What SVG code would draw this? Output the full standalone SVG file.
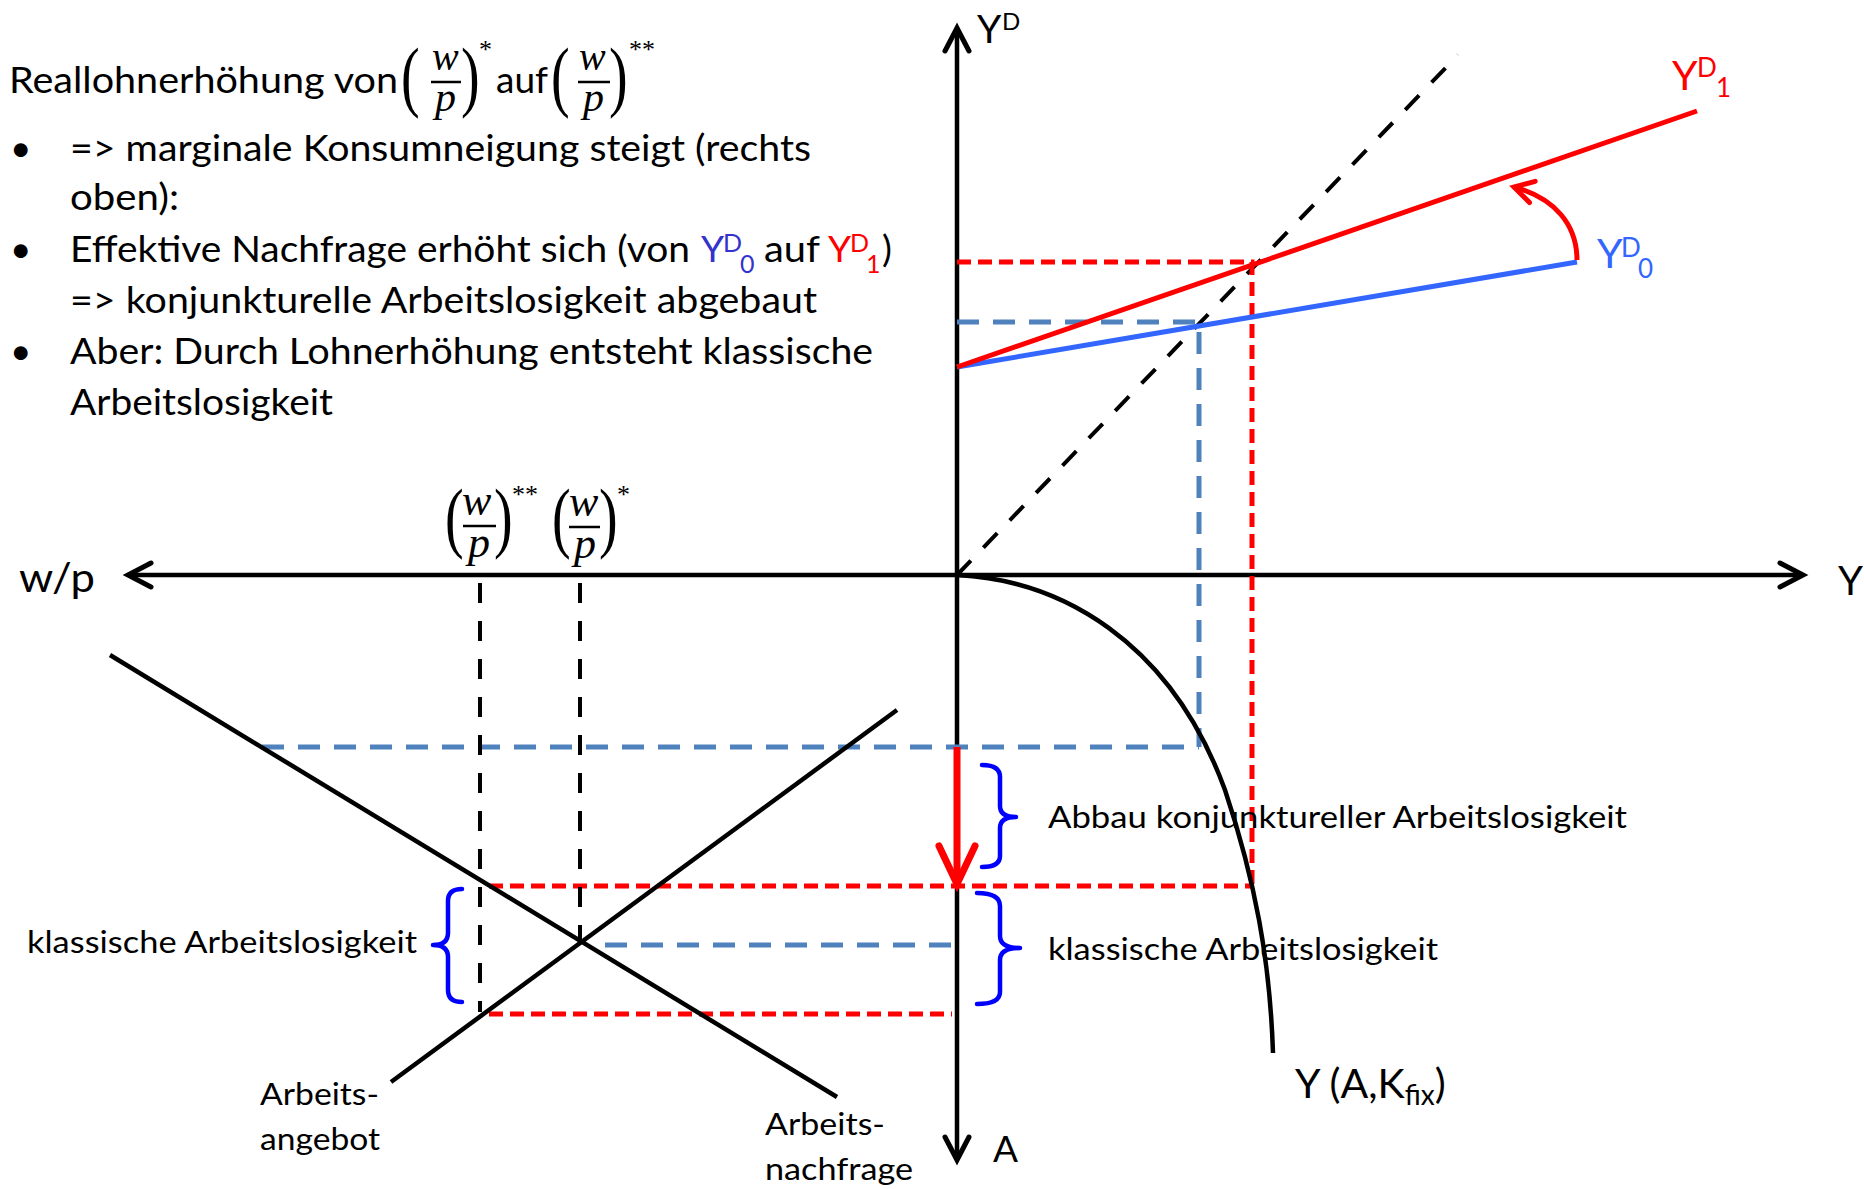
<svg xmlns="http://www.w3.org/2000/svg" width="1864" height="1189" viewBox="0 0 1864 1189">
<defs>
<style>
text { font-family: Lato, "Liberation Sans", sans-serif; fill: #000; }
.body { font-size: 37px; }
.lbl { font-size: 31px; }
.sup { font-size: 25px; }
.mi { font-family: "Liberation Serif", serif; font-style: italic; }
.paren { font-family: "Liberation Serif", serif; font-size: 56px; }
.star { font-family: "Liberation Serif", serif; font-size: 26px; }
.bar { stroke: #000; stroke-width: 2.5; }
.axis { stroke: #000; stroke-width: 4.5; fill: none; }
.dk { stroke: #000; stroke-width: 4; stroke-dasharray: 20 18; fill: none; }
.dred { stroke: #FF0000; stroke-width: 5; stroke-dasharray: 14 7; fill: none; }
.dblue { stroke: #4F81BD; stroke-width: 5; stroke-dasharray: 22 14; fill: none; }
.brace { stroke: #0000FF; stroke-width: 4.5; fill: none; stroke-linecap: round; stroke-linejoin: round; }
.solid { stroke: #000; stroke-width: 4.5; fill: none; }
.red { fill: #FF0000; }
.blue { fill: #3366FF; }
.bblue { fill: #3333CC; }
</style>
<marker id="ah" markerUnits="userSpaceOnUse" markerWidth="30" markerHeight="30" viewBox="0 0 30 30" refX="26" refY="15" orient="auto-start-reverse" overflow="visible">
<path d="M3,3 L26,15 L3,27" fill="none" stroke="#000" stroke-width="5" stroke-linecap="round"/>
</marker>
<marker id="ahRedBig" markerUnits="userSpaceOnUse" markerWidth="50" markerHeight="44" viewBox="0 0 50 44" refX="44" refY="22" orient="auto" overflow="visible">
<path d="M6,4 L44,22 L6,40" fill="none" stroke="#FF0000" stroke-width="7" stroke-linecap="round"/>
</marker>
<marker id="ahRed" markerUnits="userSpaceOnUse" markerWidth="30" markerHeight="30" viewBox="0 0 30 30" refX="24" refY="15" orient="auto" overflow="visible">
<path d="M5,4 L24,15 L5,26" fill="none" stroke="#FF0000" stroke-width="5" stroke-linecap="round"/>
</marker>
</defs>
<rect width="1864" height="1189" fill="#fff"/>

<g id="text-block">
<text class="body" x="9" y="93" textLength="389" lengthAdjust="spacingAndGlyphs">Reallohnerhöhung von</text>
<g id="frac-top-1">
<text class="paren" transform="translate(401,102) scale(1,1.4)">(</text>
<text class="mi" x="432" y="70" font-size="40">w</text>
<line class="bar" x1="431" y1="82" x2="461" y2="82"/>
<text class="mi" x="435" y="111" font-size="42">p</text>
<text class="paren" transform="translate(461,102) scale(1,1.4)">)</text>
<text class="star" x="479" y="58">*</text>
</g>
<text class="body" x="496" y="93" textLength="52" lengthAdjust="spacingAndGlyphs">auf</text>
<g id="frac-top-2">
<text class="paren" transform="translate(551,102) scale(1,1.4)">(</text>
<text class="mi" x="579" y="70" font-size="40">w</text>
<line class="bar" x1="578" y1="82" x2="610" y2="82"/>
<text class="mi" x="583" y="111" font-size="42">p</text>
<text class="paren" transform="translate(609,102) scale(1,1.4)">)</text>
<text class="star" x="629" y="58">**</text>
</g>
<text class="body" x="10" y="161" font-size="32">•</text>
<text class="body" x="70" y="161" textLength="741" lengthAdjust="spacingAndGlyphs">=&gt; marginale Konsumneigung steigt (rechts</text>
<text class="body" x="70" y="210" textLength="109" lengthAdjust="spacingAndGlyphs">oben):</text>
<text class="body" x="10" y="262" font-size="32">•</text>
<text class="body" x="70" y="262" textLength="620" lengthAdjust="spacingAndGlyphs">Effektive Nachfrage erhöht sich (von</text>
<text class="body bblue" x="701" y="262">Y</text>
<text class="sup bblue" x="723" y="252">D</text>
<text class="sup bblue" x="740" y="273">0</text>
<text class="body" x="764" y="262" textLength="56" lengthAdjust="spacingAndGlyphs">auf</text>
<text class="body red" x="828" y="262">Y</text>
<text class="sup red" x="850" y="252">D</text>
<text class="sup red" x="866" y="273">1</text>
<text class="body" x="882" y="262">)</text>
<text class="body" x="70" y="313" textLength="747" lengthAdjust="spacingAndGlyphs">=&gt; konjunkturelle Arbeitslosigkeit abgebaut</text>
<text class="body" x="10" y="364" font-size="32">•</text>
<text class="body" x="70" y="364" textLength="803" lengthAdjust="spacingAndGlyphs">Aber: Durch Lohnerhöhung entsteht klassische</text>
<text class="body" x="70" y="415" textLength="263" lengthAdjust="spacingAndGlyphs">Arbeitslosigkeit</text>
</g>

<g id="connectors">
<line class="axis" x1="128" y1="575" x2="1803" y2="575" marker-start="url(#ah)" marker-end="url(#ah)"/>
<line class="axis" x1="957" y1="28" x2="957" y2="1160" marker-start="url(#ah)" marker-end="url(#ah)"/>
<line class="dk" x1="957" y1="575" x2="1458" y2="55" stroke-width="4.5" stroke-dasharray="22 14"/>
<path class="dred" d="M957,262 H1252 V886"/>
<path class="dblue" d="M957,322 H1199 V747"/>
<line class="dblue" x1="262" y1="747" x2="1199" y2="747"/>
<line class="dred" x1="489" y1="886" x2="1252" y2="886"/>
<line class="dred" x1="489" y1="1014" x2="952" y2="1014"/>
<line class="dblue" x1="605" y1="945" x2="952" y2="945"/>
<line class="dk" x1="480" y1="583" x2="480" y2="1012"/>
<line class="dk" x1="580" y1="583" x2="580" y2="940"/>
<line x1="957" y1="367" x2="1577" y2="262" stroke="#3366FF" stroke-width="5"/>
<line x1="957" y1="367" x2="1697" y2="111" stroke="#FF0000" stroke-width="5"/>
<path d="M1577,260 C1577,225 1555,198 1514,187" fill="none" stroke="#FF0000" stroke-width="5" marker-end="url(#ahRed)"/>
<line x1="957" y1="747" x2="957" y2="884" stroke="#FF0000" stroke-width="7" marker-end="url(#ahRedBig)"/>
<path class="solid" d="M957,575 C1060,580 1170,640 1225,790 C1255,880 1270,960 1273,1053"/>
<line class="solid" x1="110" y1="655" x2="837" y2="1097"/>
<line class="solid" x1="391" y1="1082" x2="897" y2="710"/>
<path class="brace" d="M982,765 Q1000,765 1000,777 V806 Q1000,817 1016,817 Q1000,817 1000,828 V856 Q1000,867 982,867"/>
<path class="brace" d="M977,893 Q1000,893 1000,906 V936 Q1000,948 1020,948 Q1000,948 1000,960 V992 Q1000,1004 977,1004"/>
<path class="brace" d="M462,889 Q448,889 448,901 V933 Q448,945 433,945 Q448,945 448,957 V990 Q448,1002 462,1002"/>
</g>

<g id="axis-labels">
<text x="977" y="43" font-size="39">Y</text>
<text x="1002" y="30" font-size="24">D</text>
<text x="19" y="592" font-size="40" textLength="76" lengthAdjust="spacingAndGlyphs">w/p</text>
<text x="1838" y="595" font-size="40">Y</text>
<text x="993" y="1162" font-size="37">A</text>
</g>

<g id="frac-bottom-1">
<text class="paren" transform="translate(445,543) scale(1,1.4)">(</text>
<text class="mi" x="462" y="515" font-size="44">w</text>
<line class="bar" x1="463" y1="526" x2="496" y2="526"/>
<text class="mi" x="468" y="557" font-size="44">p</text>
<text class="paren" transform="translate(494,543) scale(1,1.4)">)</text>
<text class="star" x="512" y="503">**</text>
</g>
<g id="frac-bottom-2">
<text class="paren" transform="translate(552,543) scale(1,1.4)">(</text>
<text class="mi" x="569" y="516" font-size="44">w</text>
<line class="bar" x1="569" y1="527" x2="600" y2="527"/>
<text class="mi" x="574" y="558" font-size="44">p</text>
<text class="paren" transform="translate(599,543) scale(1,1.4)">)</text>
<text class="star" x="617" y="503">*</text>
</g>

<g id="label-yd1">
<text class="red" x="1672" y="90" font-size="41">Y</text>
<text class="red" x="1697" y="77" font-size="26">D</text>
<text class="red" x="1716" y="97" font-size="26">1</text>
</g>
<g id="label-yd0">
<text class="blue" x="1597" y="268" font-size="41">Y</text>
<text class="blue" x="1621" y="257" font-size="26">D</text>
<text class="blue" x="1638" y="278" font-size="26">0</text>
</g>
<g id="label-abbau"><text class="lbl" x="1048" y="828" textLength="579" lengthAdjust="spacingAndGlyphs">Abbau konjunktureller Arbeitslosigkeit</text></g>
<g id="label-klass-right"><text class="lbl" x="1048" y="960" textLength="390" lengthAdjust="spacingAndGlyphs">klassische Arbeitslosigkeit</text></g>
<g id="label-klass-left"><text class="lbl" x="27" y="953" textLength="390" lengthAdjust="spacingAndGlyphs">klassische Arbeitslosigkeit</text></g>
<g id="label-angebot">
<text class="lbl" x="260" y="1105" textLength="119" lengthAdjust="spacingAndGlyphs">Arbeits-</text>
<text class="lbl" x="260" y="1150" textLength="120" lengthAdjust="spacingAndGlyphs">angebot</text>
</g>
<g id="label-nachfrage">
<text class="lbl" x="765" y="1135" textLength="120" lengthAdjust="spacingAndGlyphs">Arbeits-</text>
<text class="lbl" x="765" y="1180" textLength="148" lengthAdjust="spacingAndGlyphs">nachfrage</text>
</g>
<g id="label-production">
<text x="1295" y="1098" font-size="41">Y (A,K<tspan font-size="28" y="1105">fix</tspan><tspan y="1098">)</tspan></text>
</g>
</svg>
